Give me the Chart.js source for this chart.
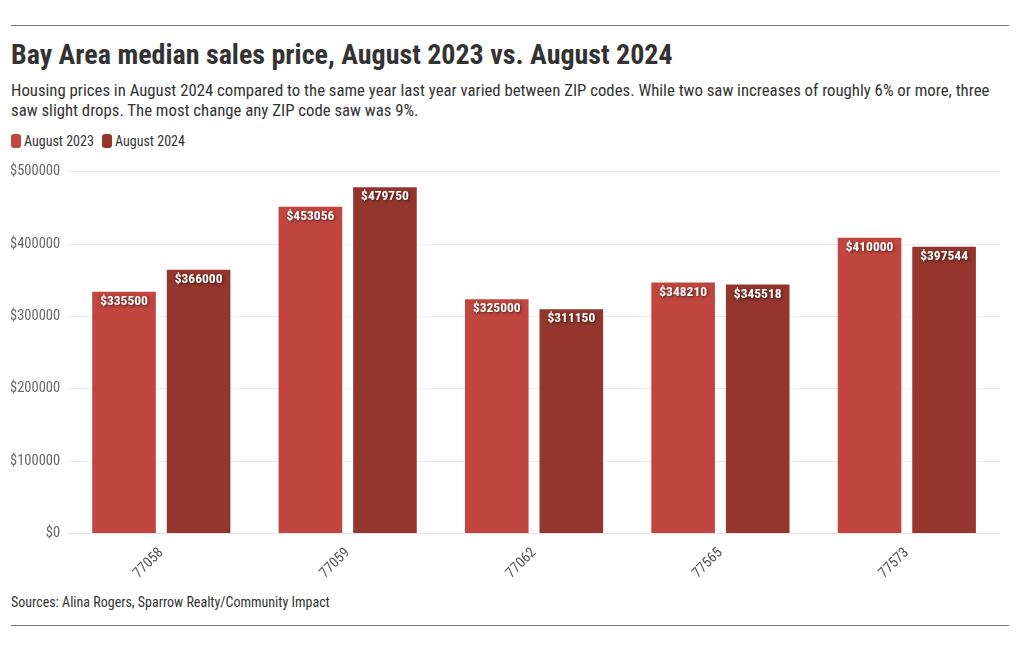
<!DOCTYPE html>
<html>
<head>
<meta charset="utf-8">
<script src="https://cdn.jsdelivr.net/npm/chart.js@4.4.1/dist/chart.umd.min.js"></script>
<style>
  body { margin: 0; background: #fff; font-family: "Roboto Condensed", "Liberation Sans Narrow", Roboto, sans-serif; color: #333; }
  .wrap { position: relative; width: 1020px; height: 650px; }
  .rule { position: absolute; left: 11px; width: 998px; height: 1px; background: #777; }
  h1 { position: absolute; left: 11px; top: 38px; margin: 0; font-size: 28px; font-weight: 700; color: #333; }
  .sub { position: absolute; left: 11px; top: 80px; width: 1000px; margin: 0; font-size: 16.75px; line-height: 20px; color: #333; }
  .legend { position: absolute; left: 11px; top: 133px; font-size: 14px; color: #333; }
  .legend span { display: inline-block; margin-right: 5px; }
  .legend i { display: inline-block; width: 10px; height: 14px; border-radius: 3px; vertical-align: -2px; margin-right: 3px; }
  .src { position: absolute; left: 11px; top: 594px; font-size: 14px; color: #333; }
  .chart { position: absolute; left: 2px; top: 155px; width: 998px; height: 430px; }
</style>
</head>
<body>
<div class="wrap">
  <div class="rule" style="top:25px"></div>
  <h1>Bay Area median sales price, August 2023 vs. August 2024</h1>
  <p class="sub">Housing prices in August 2024 compared to the same year last year varied between ZIP codes. While two saw increases of roughly 6% or more, three saw slight drops. The most change any ZIP code saw was 9%.</p>
  <div class="legend">
    <span><i style="background:#c0463e"></i>August 2023</span>
    <span><i style="background:#94362d"></i>August 2024</span>
  </div>
  <div class="chart"><canvas id="c"></canvas></div>
  <div class="src">Sources: Alina Rogers, Sparrow Realty/Community Impact</div>
  <div class="rule" style="top:625px"></div>
</div>
<script>
const zipCodes = ['77058', '77059', '77062', '77565', '77573'];
const aug2023 = [335500, 453056, 325000, 348210, 410000];
const aug2024 = [366000, 479750, 311150, 345518, 397544];
const seriesNames = ['August 2023', 'August 2024'];
const seriesColors = ['#c0463e', '#94362d'];

const fontFamily = '"Roboto Condensed", "Liberation Sans Narrow", Roboto, sans-serif';

const barLabels = {
  id: 'barLabels',
  afterDatasetsDraw(chart) {
    const ctx = chart.ctx;
    ctx.save();
    ctx.font = 'bold 13.5px ' + fontFamily;
    ctx.textAlign = 'center';
    ctx.textBaseline = 'top';
    ctx.fillStyle = '#fff';
    ctx.shadowColor = 'rgba(0,0,0,0.6)';
    ctx.shadowBlur = 3;
    ctx.shadowOffsetX = 1;
    ctx.shadowOffsetY = 1;
    chart.data.datasets.forEach((ds, i) => {
      chart.getDatasetMeta(i).data.forEach((bar, j) => {
        ctx.fillText('$' + ds.data[j], bar.x, bar.y + 4);
      });
    });
    ctx.restore();
  }
};

new Chart(document.getElementById('c'), {
  type: 'bar',
  data: {
    labels: zipCodes,
    datasets: [
      { label: seriesNames[0], data: aug2023, backgroundColor: seriesColors[0], borderColor: 'rgba(255,255,255,0.25)', borderWidth: 1 },
      { label: seriesNames[1], data: aug2024, backgroundColor: seriesColors[1], borderColor: 'rgba(255,255,255,0.25)', borderWidth: 1 }
    ]
  },
  options: {
    responsive: true,
    maintainAspectRatio: false,
    animation: false,
    datasets: { bar: { categoryPercentage: 0.8, barPercentage: 0.88 } },
    layout: { padding: { top: 2, right: 0, left: 0 } },
    plugins: { legend: { display: false }, tooltip: { enabled: false } },
    scales: {
      y: {
        min: 0, max: 500000,
        ticks: { stepSize: 100000, color: '#666', font: { family: fontFamily, size: 14.5 }, callback: v => '$' + v, padding: 8 },
        grid: { color: '#ebebeb', drawTicks: false },
        border: { display: false }
      },
      x: {
        ticks: { color: '#555', font: { family: fontFamily, size: 14.5 }, maxRotation: 45, minRotation: 45 },
        grid: { display: false },
        border: { color: '#e5e5e5' }
      }
    }
  },
  plugins: [barLabels]
});
</script>
</body>
</html>
